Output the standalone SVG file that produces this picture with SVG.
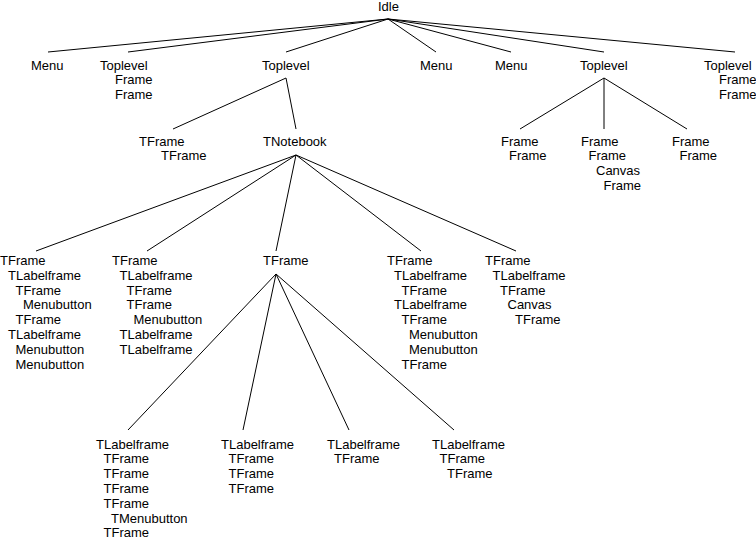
<svg xmlns="http://www.w3.org/2000/svg" width="756" height="538" viewBox="0 0 756 538">
<style>
text{font-family:"Liberation Sans",Arial,sans-serif;font-size:13px;fill:#000}
.c line{stroke:#000;stroke-width:1}
</style>
<rect width="756" height="538" fill="#fff"/>
<g class="c" id="connectors">
<line x1="388" y1="19" x2="48" y2="52"/>
<line x1="388" y1="19" x2="128" y2="52"/>
<line x1="388" y1="19" x2="286" y2="52"/>
<line x1="388" y1="19" x2="436" y2="52"/>
<line x1="388" y1="19" x2="511" y2="52"/>
<line x1="388" y1="19" x2="604" y2="52"/>
<line x1="388" y1="19" x2="735" y2="52"/>
<line x1="286" y1="78" x2="173" y2="129"/>
<line x1="286" y1="78" x2="296" y2="129"/>
<line x1="604" y1="78" x2="520" y2="129"/>
<line x1="604" y1="78" x2="604" y2="129"/>
<line x1="604" y1="78" x2="687" y2="129"/>
<line x1="296" y1="155" x2="36" y2="251"/>
<line x1="296" y1="155" x2="147" y2="251"/>
<line x1="296" y1="155" x2="276" y2="251"/>
<line x1="296" y1="155" x2="421" y2="251"/>
<line x1="296" y1="155" x2="516" y2="251"/>
<line x1="276" y1="274" x2="128" y2="430"/>
<line x1="276" y1="274" x2="243" y2="430"/>
<line x1="276" y1="274" x2="349" y2="430"/>
<line x1="276" y1="274" x2="454" y2="430"/>
</g>
<g id="idle"><text x="378" y="11">Idle</text></g>
<g id="menu1"><text x="31" y="69.5">Menu</text></g>
<g id="toplevel1"><text y="69.5"><tspan x="100">Toplevel</tspan><tspan x="115" dy="14.8">Frame</tspan><tspan x="115" dy="14.8">Frame</tspan></text></g>
<g id="toplevel2"><text x="262" y="69.5">Toplevel</text></g>
<g id="menu2"><text x="420" y="69.5">Menu</text></g>
<g id="menu3"><text x="495" y="69.5">Menu</text></g>
<g id="toplevel3"><text x="580" y="69.5">Toplevel</text></g>
<g id="toplevel4"><text y="69.5"><tspan x="704">Toplevel</tspan><tspan x="719" dy="14.8">Frame</tspan><tspan x="719" dy="14.8">Frame</tspan></text></g>
<g id="tframe-a"><text y="145.5"><tspan x="139">TFrame</tspan><tspan x="161" dy="14.8">TFrame</tspan></text></g>
<g id="tnotebook"><text x="263" y="145.5">TNotebook</text></g>
<g id="frame-a"><text y="145.5"><tspan x="501">Frame</tspan><tspan x="509" dy="14.8">Frame</tspan></text></g>
<g id="frame-b"><text y="145.5"><tspan x="581">Frame</tspan><tspan x="588.5" dy="14.8">Frame</tspan><tspan x="596" dy="14.8">Canvas</tspan><tspan x="603.5" dy="14.8">Frame</tspan></text></g>
<g id="frame-c"><text y="145.5"><tspan x="672">Frame</tspan><tspan x="679.5" dy="14.8">Frame</tspan></text></g>
<g id="nb1"><text y="265"><tspan x="0">TFrame</tspan><tspan x="8" dy="14.8">TLabelframe</tspan><tspan x="15.5" dy="14.8">TFrame</tspan><tspan x="23" dy="14.8">Menubutton</tspan><tspan x="15.5" dy="14.8">TFrame</tspan><tspan x="8" dy="14.8">TLabelframe</tspan><tspan x="15.5" dy="14.8">Menubutton</tspan><tspan x="15.5" dy="14.8">Menubutton</tspan></text></g>
<g id="nb2"><text y="265"><tspan x="112">TFrame</tspan><tspan x="119.5" dy="14.8">TLabelframe</tspan><tspan x="126.5" dy="14.8">TFrame</tspan><tspan x="126.5" dy="14.8">TFrame</tspan><tspan x="133.5" dy="14.8">Menubutton</tspan><tspan x="119.5" dy="14.8">TLabelframe</tspan><tspan x="119.5" dy="14.8">TLabelframe</tspan></text></g>
<g id="nb3"><text x="263" y="265">TFrame</text></g>
<g id="nb4"><text y="265"><tspan x="387">TFrame</tspan><tspan x="394" dy="14.8">TLabelframe</tspan><tspan x="401.5" dy="14.8">TFrame</tspan><tspan x="394" dy="14.8">TLabelframe</tspan><tspan x="401.5" dy="14.8">TFrame</tspan><tspan x="409" dy="14.8">Menubutton</tspan><tspan x="409" dy="14.8">Menubutton</tspan><tspan x="401.5" dy="14.8">TFrame</tspan></text></g>
<g id="nb5"><text y="265"><tspan x="485">TFrame</tspan><tspan x="492.5" dy="14.8">TLabelframe</tspan><tspan x="500" dy="14.8">TFrame</tspan><tspan x="507.5" dy="14.8">Canvas</tspan><tspan x="515" dy="14.8">TFrame</tspan></text></g>
<g id="lf1"><text y="448.5"><tspan x="96">TLabelframe</tspan><tspan x="103.5" dy="14.8">TFrame</tspan><tspan x="103.5" dy="14.8">TFrame</tspan><tspan x="103.5" dy="14.8">TFrame</tspan><tspan x="103.5" dy="14.8">TFrame</tspan><tspan x="111" dy="14.8">TMenubutton</tspan><tspan x="103.5" dy="14.8">TFrame</tspan></text></g>
<g id="lf2"><text y="448.5"><tspan x="221">TLabelframe</tspan><tspan x="228.5" dy="14.8">TFrame</tspan><tspan x="228.5" dy="14.8">TFrame</tspan><tspan x="228.5" dy="14.8">TFrame</tspan></text></g>
<g id="lf3"><text y="448.5"><tspan x="327">TLabelframe</tspan><tspan x="334" dy="14.8">TFrame</tspan></text></g>
<g id="lf4"><text y="448.5"><tspan x="432">TLabelframe</tspan><tspan x="439.5" dy="14.8">TFrame</tspan><tspan x="447" dy="14.8">TFrame</tspan></text></g>
</svg>
